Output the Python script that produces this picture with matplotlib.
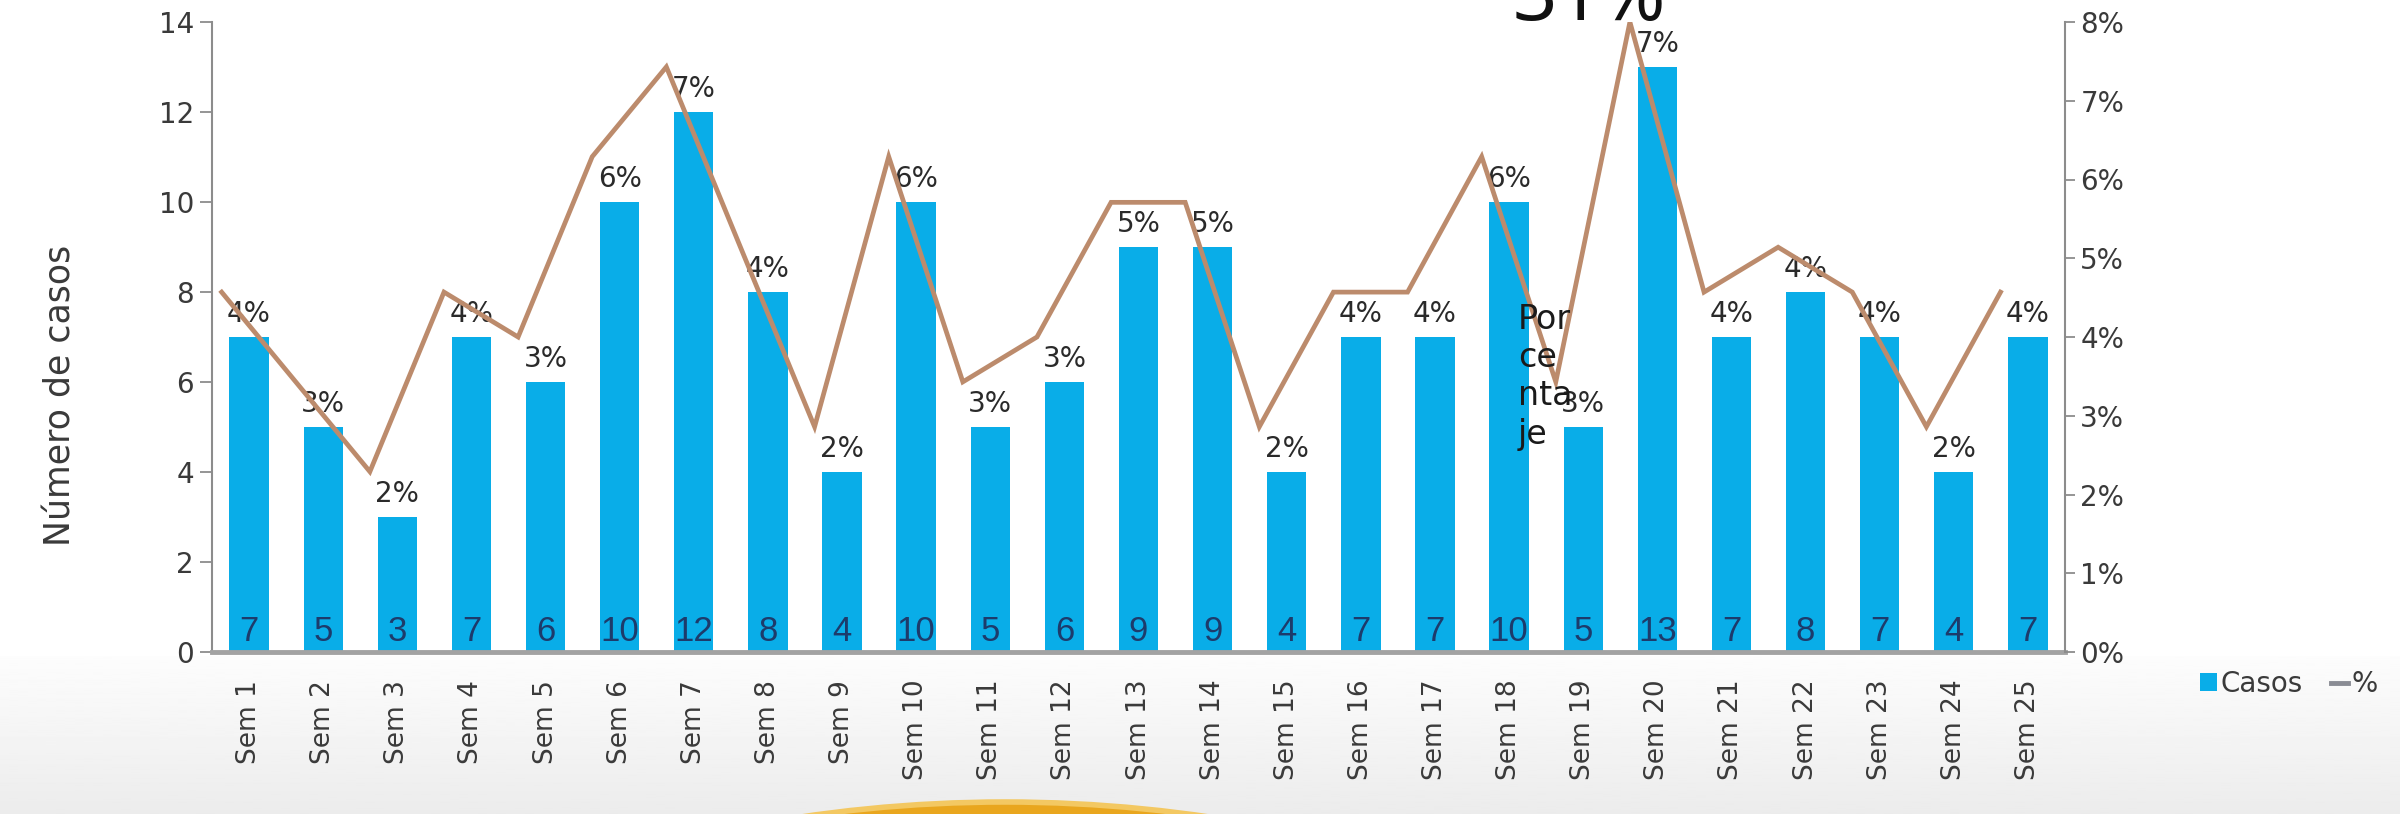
import numpy as np
import matplotlib
matplotlib.use("Agg")
import matplotlib.pyplot as plt
from matplotlib.patches import Circle, Patch
from matplotlib.lines import Line2D

plt.rcParams['font.family'] = ['DejaVu Sans']

# datos
semanas = [f"Sem {i}" for i in range(1, 26)]
casos = [7, 5, 3, 7, 6, 10, 12, 8, 4, 10, 5, 6, 9, 9, 4, 7, 7, 10, 5, 13, 7, 8, 7, 4, 7]
etiquetas_pct = ["4%", "3%", "2%", "4%", "3%", "6%", "7%", "4%", "2%", "6%", "3%", "3%", "5%",
                 "5%", "2%", "4%", "4%", "6%", "3%", "7%", "4%", "4%", "4%", "2%", "4%"]
linea_pct = [4.57, 3.43, 2.29, 4.57, 4.0, 6.29, 7.43, 5.14, 2.86, 6.29, 3.43, 4.0, 5.71,
             5.71, 2.86, 4.57, 4.57, 6.29, 3.43, 8.0, 4.57, 5.14, 4.57, 2.86, 4.57]
ticks_izq = [0, 2, 4, 6, 8, 10, 12, 14]
ticks_der = [0, 1, 2, 3, 4, 5, 6, 7, 8]

AZUL = '#09ADE8'
MARRON = '#BC8B6C'
GRIS_TXT = '#3a3a3a'
W, H = 2400, 814

fig = plt.figure(figsize=(W / 100, H / 100), dpi=100)

# fondo: banda gris inferior y circulo amarillo
bg = fig.add_axes([0, 0, 1, 1], zorder=-5)
bg.set_xlim(0, W)
bg.set_ylim(H, 0)
bg.axis('off')
grad = np.linspace(0.99, 0.925, 100).reshape(-1, 1)
bg.imshow(grad, cmap='gray', vmin=0, vmax=1, extent=(0, W, H, 656), aspect='auto')
bg.add_patch(Circle((1005, 802 + 1400), 1400, facecolor='#E9A61E', edgecolor='#F3C862', lw=4))

ax = fig.add_axes([212 / W, 1 - 652 / H, (2065 - 212) / W, (652 - 22) / H])
ax.patch.set_visible(False)
x = np.arange(len(casos))
ax.bar(x, casos, width=0.53, color=AZUL, zorder=2)
ax.set_xlim(-0.5, len(casos) - 0.5)
ax.set_ylim(0, 14)
ax.set_yticks(ticks_izq)
ax.set_xticks(x)
ax.set_xticklabels(semanas, rotation=90, va='top', ha='center')
ax.tick_params(axis='x', length=0, pad=20, labelsize=19, labelcolor=GRIS_TXT)
ax.tick_params(axis='y', length=9, width=1.3, color='#8c8c8c', labelsize=20,
               labelcolor=GRIS_TXT, pad=4)
for s in ['top', 'right']:
    ax.spines[s].set_visible(False)
ax.spines['left'].set_color('#8c8c8c')
ax.spines['left'].set_linewidth(1.5)
ax.spines['bottom'].set_color('#a3a3a3')
ax.spines['bottom'].set_linewidth(3.5)

# numeros dentro de las barras y porcentajes encima
for i, v in enumerate(casos):
    ax.annotate(str(v), (i, 0), xytext=(0, 3), textcoords='offset points',
                ha='center', va='bottom', fontsize=25, color='#1d3b6b',
                family='Liberation Sans', zorder=3)
    ax.annotate(etiquetas_pct[i], (i, v), xytext=(0, 11), textcoords='offset points',
                ha='center', va='baseline', fontsize=20, color='#2a2a2a', zorder=3)

ax2 = ax.twinx()
ax2.plot(x - 0.37, linea_pct, color=MARRON, lw=3.4, solid_joinstyle='miter', zorder=4)
ax2.set_ylim(0, 8)
ax2.set_yticks(ticks_der)
ax2.set_yticklabels([f"{t}%" for t in ticks_der])
ax2.tick_params(axis='y', length=7, width=1.3, color='#8c8c8c', labelsize=20,
                labelcolor=GRIS_TXT, pad=4)
for s in ['top', 'left', 'bottom']:
    ax2.spines[s].set_visible(False)
ax2.spines['right'].set_color('#8c8c8c')
ax2.spines['right'].set_linewidth(1.5)

# titulo del eje izquierdo
fig.text(61 / W, 1 - 395 / H, "Número de casos", rotation=90, fontsize=25,
         color=GRIS_TXT, ha='center', va='center')

# leyenda
handles = [Patch(facecolor=AZUL, edgecolor='none'),
           Line2D([0], [0], color='#8a8c94', lw=3.5)]
fig.legend(handles, ['Casos', '%'], loc='center left', bbox_to_anchor=(2175 / W, 1 - 684 / H),
           ncol=2, frameon=False, fontsize=20, handlelength=0.6, handleheight=0.6,
           handletextpad=0.15, columnspacing=1.0, labelcolor=GRIS_TXT)

# textos sueltos
fig.text(1513 / W, 1 - 20 / H, "31%", fontsize=56, family='Noto Sans', va='baseline',
         ha='left', color='#111111')
fig.text(1518 / W, 1 - 303 / H, "Por\nce\nnta\nje", fontsize=24, va='top', ha='left',
         linespacing=1.2, color='#1a1a1a', zorder=10)

fig.savefig("out.png", dpi=100)
